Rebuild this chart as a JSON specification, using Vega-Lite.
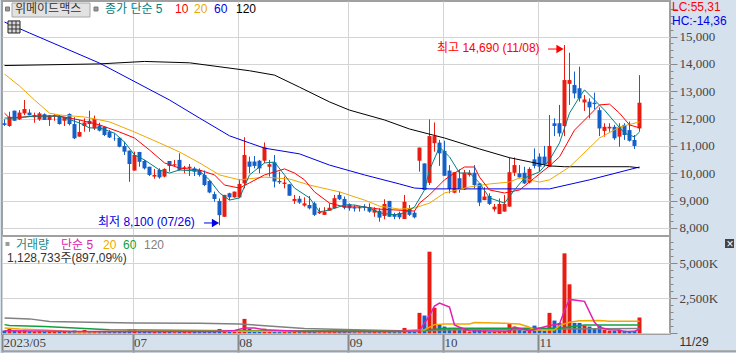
{
"$schema":"https://vega.github.io/schema/vega-lite/v6.json",
"background":"#d6e1ee",
"padding":{"left":0,"top":0,"right":0,"bottom":0},
"spacing":0,
"bounds":"flush",
"resolve":{"scale":{"color":"independent","fill":"independent","stroke":"independent"}},
"config":{"view":{"stroke":"#a0a0a0","strokeWidth":2,"fill":"white"},"axis":{"labelFont":"Liberation Sans Narrow","labelFontSize":13,"labelColor":"#444","tickColor":"#888","gridColor":"#d4d4d4","domain":false,"title":null}},
"datasets":{
"candles":[
{"i":0,"o":11830,"h":11970,"l":11730,"c":11770,"v":200},{"i":1,"o":11730,"h":12250,"l":11700,"c":12070,"v":360},{"i":2,"o":12290,"h":12290,"l":11920,"c":11920,"v":200},{"i":3,"o":11970,"h":12310,"l":11950,"c":12220,"v":180},{"i":4,"o":12190,"h":12680,"l":12130,"c":12350,"v":200},{"i":5,"o":12220,"h":12340,"l":12120,"c":12120,"v":150},{"i":6,"o":12050,"h":12220,"l":11850,"c":12130,"v":130},{"i":7,"o":11970,"h":12240,"l":11920,"c":12190,"v":150},{"i":8,"o":12160,"h":12190,"l":11950,"c":11950,"v":130},{"i":9,"o":11950,"h":12120,"l":11730,"c":12120,"v":130},
{"i":10,"o":12100,"h":12170,"l":11920,"c":12130,"v":110},{"i":11,"o":12100,"h":12130,"l":11780,"c":11800,"v":120},{"i":12,"o":11920,"h":12050,"l":11730,"c":12050,"v":120},{"i":13,"o":12170,"h":12190,"l":11750,"c":11800,"v":130},{"i":14,"o":11800,"h":12050,"l":11250,"c":11280,"v":200},{"i":15,"o":11340,"h":11950,"l":11340,"c":11510,"v":120},{"i":16,"o":11730,"h":12010,"l":11520,"c":11860,"v":240},{"i":17,"o":11920,"h":12290,"l":11520,"c":11800,"v":130},{"i":18,"o":11640,"h":12110,"l":11580,"c":11990,"v":140},{"i":19,"o":11750,"h":11850,"l":11530,"c":11560,"v":120},
{"i":20,"o":11700,"h":11700,"l":11360,"c":11400,"v":110},{"i":21,"o":11520,"h":11580,"l":11290,"c":11310,"v":120},{"i":22,"o":11280,"h":11460,"l":11190,"c":11270,"v":90},{"i":23,"o":11300,"h":11300,"l":10950,"c":10970,"v":100},{"i":24,"o":11000,"h":11160,"l":10670,"c":10790,"v":140},{"i":25,"o":10830,"h":10830,"l":9690,"c":10340,"v":260},{"i":26,"o":10100,"h":10790,"l":10100,"c":10670,"v":260},{"i":27,"o":10780,"h":10780,"l":10240,"c":10420,"v":150},{"i":28,"o":10450,"h":10490,"l":10140,"c":10180,"v":120},{"i":29,"o":10240,"h":10240,"l":9900,"c":9940,"v":110},
{"i":30,"o":9880,"h":10160,"l":9800,"c":9940,"v":90},{"i":31,"o":10120,"h":10180,"l":9800,"c":9850,"v":110},{"i":32,"o":9880,"h":10180,"l":9850,"c":10160,"v":120},{"i":33,"o":10450,"h":10450,"l":10060,"c":10270,"v":110},{"i":34,"o":10290,"h":10490,"l":10240,"c":10330,"v":80},{"i":35,"o":10490,"h":10730,"l":10100,"c":10120,"v":150},{"i":36,"o":10180,"h":10270,"l":10000,"c":10220,"v":100},{"i":37,"o":10180,"h":10340,"l":9900,"c":10240,"v":190},{"i":38,"o":10180,"h":10240,"l":9900,"c":10060,"v":190},{"i":39,"o":10120,"h":10180,"l":9880,"c":9940,"v":190},
{"i":40,"o":9940,"h":10100,"l":9530,"c":9570,"v":130},{"i":41,"o":9720,"h":9750,"l":9270,"c":9300,"v":140},{"i":42,"o":9240,"h":9330,"l":8960,"c":9060,"v":190},{"i":43,"o":8990,"h":9080,"l":8100,"c":8470,"v":310},{"i":44,"o":8410,"h":9210,"l":8410,"c":9210,"v":230},{"i":45,"o":9270,"h":9290,"l":9020,"c":9120,"v":130},{"i":46,"o":9120,"h":9330,"l":9110,"c":9330,"v":140},{"i":47,"o":9120,"h":9780,"l":9090,"c":9610,"v":250},{"i":48,"o":9630,"h":11320,"l":9450,"c":10670,"v":1030},{"i":49,"o":10430,"h":10610,"l":10000,"c":10240,"v":330},
{"i":50,"o":10430,"h":10630,"l":10180,"c":10270,"v":200},{"i":51,"o":10460,"h":10490,"l":10000,"c":10180,"v":170},{"i":52,"o":10460,"h":11130,"l":10370,"c":10950,"v":330},{"i":53,"o":10240,"h":10490,"l":9880,"c":10330,"v":180},{"i":54,"o":10400,"h":10670,"l":9480,"c":9700,"v":240},{"i":55,"o":9720,"h":10060,"l":9610,"c":9670,"v":150},{"i":56,"o":9610,"h":9880,"l":9450,"c":9660,"v":120},{"i":57,"o":9600,"h":9600,"l":9180,"c":9180,"v":170},{"i":58,"o":8990,"h":9210,"l":8880,"c":9060,"v":110},{"i":59,"o":9070,"h":9170,"l":8880,"c":8930,"v":90},
{"i":60,"o":8820,"h":9120,"l":8780,"c":8900,"v":90},{"i":61,"o":8840,"h":9170,"l":8680,"c":8720,"v":110},{"i":62,"o":8900,"h":8960,"l":8440,"c":8480,"v":160},{"i":63,"o":8540,"h":8740,"l":8510,"c":8600,"v":80},{"i":64,"o":8480,"h":8760,"l":8480,"c":8600,"v":80},{"i":65,"o":8630,"h":8900,"l":8630,"c":8740,"v":110},{"i":66,"o":8720,"h":9210,"l":8720,"c":9090,"v":190},{"i":67,"o":9210,"h":9330,"l":9020,"c":9050,"v":130},{"i":68,"o":9060,"h":9150,"l":8680,"c":8740,"v":130},{"i":69,"o":8870,"h":8900,"l":8630,"c":8720,"v":90},
{"i":70,"o":8760,"h":8840,"l":8600,"c":8710,"v":80},{"i":71,"o":8720,"h":8800,"l":8600,"c":8760,"v":80},{"i":72,"o":8780,"h":8870,"l":8630,"c":8740,"v":80},{"i":73,"o":8760,"h":8900,"l":8560,"c":8600,"v":90},{"i":74,"o":8560,"h":8760,"l":8410,"c":8680,"v":100},{"i":75,"o":8630,"h":8720,"l":8230,"c":8380,"v":130},{"i":76,"o":8440,"h":9050,"l":8320,"c":8880,"v":220},{"i":77,"o":8990,"h":8990,"l":8410,"c":8410,"v":210},{"i":78,"o":8510,"h":8560,"l":8320,"c":8410,"v":100},{"i":79,"o":8540,"h":8600,"l":8320,"c":8390,"v":100},
{"i":80,"o":8330,"h":9210,"l":8330,"c":8960,"v":384},{"i":81,"o":8720,"h":8840,"l":8440,"c":8480,"v":190},{"i":82,"o":8560,"h":8630,"l":8350,"c":8390,"v":130},{"i":83,"o":10460,"h":10940,"l":10060,"c":10940,"v":1460},{"i":84,"o":10360,"h":10360,"l":9390,"c":9390,"v":1270},{"i":85,"o":9650,"h":11970,"l":9570,"c":11360,"v":5830},{"i":86,"o":11100,"h":11860,"l":10790,"c":11360,"v":1820},{"i":87,"o":11120,"h":11220,"l":10270,"c":10730,"v":620},{"i":88,"o":10820,"h":11190,"l":9910,"c":9910,"v":480},{"i":89,"o":10100,"h":10300,"l":9270,"c":9430,"v":310},
{"i":90,"o":9290,"h":10040,"l":9270,"c":10040,"v":310},{"i":91,"o":9820,"h":10140,"l":9290,"c":9390,"v":310},{"i":92,"o":9410,"h":10120,"l":9390,"c":10020,"v":360},{"i":93,"o":9940,"h":10120,"l":9880,"c":10020,"v":120},{"i":94,"o":10020,"h":10300,"l":9450,"c":9570,"v":240},{"i":95,"o":9630,"h":9630,"l":8800,"c":8930,"v":240},{"i":96,"o":9020,"h":9490,"l":9020,"c":9150,"v":190},{"i":97,"o":9170,"h":9270,"l":8840,"c":8880,"v":120},{"i":98,"o":8680,"h":8880,"l":8600,"c":8780,"v":120},{"i":99,"o":8510,"h":9080,"l":8510,"c":8880,"v":140},
{"i":100,"o":8600,"h":9210,"l":8600,"c":8880,"v":140},{"i":101,"o":8780,"h":10580,"l":8780,"c":10040,"v":700},{"i":102,"o":10020,"h":10580,"l":9900,"c":10300,"v":480},{"i":103,"o":10000,"h":10300,"l":9820,"c":9850,"v":240},{"i":104,"o":10020,"h":10240,"l":9610,"c":9630,"v":190},{"i":105,"o":9660,"h":10220,"l":9630,"c":10160,"v":310},{"i":106,"o":10510,"h":10910,"l":10180,"c":10270,"v":550},{"i":107,"o":10610,"h":10730,"l":10060,"c":10240,"v":240},{"i":108,"o":10610,"h":11000,"l":10240,"c":10340,"v":190},{"i":109,"o":10240,"h":12130,"l":10240,"c":11000,"v":1460},
{"i":110,"o":11830,"h":12010,"l":11360,"c":11730,"v":910},{"i":111,"o":11830,"h":12500,"l":11340,"c":11460,"v":740},{"i":112,"o":11730,"h":14690,"l":11360,"c":13410,"v":5710},{"i":113,"o":13270,"h":14410,"l":12500,"c":13410,"v":3500},{"i":114,"o":13230,"h":13720,"l":12740,"c":12920,"v":740},{"i":115,"o":13110,"h":13900,"l":12620,"c":12740,"v":740},{"i":116,"o":12590,"h":12860,"l":12280,"c":12700,"v":550},{"i":117,"o":12620,"h":12740,"l":12010,"c":12410,"v":480},{"i":118,"o":12580,"h":12950,"l":12340,"c":12530,"v":360},{"i":119,"o":12310,"h":12410,"l":11360,"c":11640,"v":550},
{"i":120,"o":11550,"h":11830,"l":11340,"c":11700,"v":260},{"i":121,"o":11640,"h":11830,"l":11520,"c":11700,"v":190},{"i":122,"o":11700,"h":11770,"l":11220,"c":11280,"v":190},{"i":123,"o":11340,"h":11830,"l":10970,"c":11700,"v":240},{"i":124,"o":11770,"h":11830,"l":11220,"c":11400,"v":190},{"i":125,"o":11580,"h":11890,"l":11160,"c":11190,"v":120},{"i":126,"o":11220,"h":11400,"l":10890,"c":11000,"v":170},{"i":127,"o":11640,"h":13590,"l":11520,"c":12580,"v":1129}
],
"pma":[
{"s":"ma60","i":0,"p":15530},{"s":"ma60","i":5,"p":15130},{"s":"ma60","i":19,"p":14030},{"s":"ma60","i":33,"p":12680},{"s":"ma60","i":39,"p":12020},{"s":"ma60","i":45,"p":11370},{"s":"ma60","i":49,"p":11110},{"s":"ma60","i":52,"p":10920},{"s":"ma60","i":59,"p":10710},{"s":"ma60","i":65,"p":10300},{"s":"ma60","i":72,"p":9940},{"s":"ma60","i":79,"p":9610},{"s":"ma60","i":82,"p":9460},{"s":"ma60","i":85,"p":9430},{"s":"ma60","i":101,"p":9430},{"s":"ma60","i":109,"p":9430},{"s":"ma60","i":117,"p":9760},{"s":"ma60","i":127,"p":10230},
{"s":"ma120","i":0,"p":13940},{"s":"ma120","i":19,"p":14000},{"s":"ma120","i":28,"p":14090},{"s":"ma120","i":37,"p":14040},{"s":"ma120","i":49,"p":13750},{"s":"ma120","i":54,"p":13590},{"s":"ma120","i":59,"p":13150},{"s":"ma120","i":65,"p":12610},{"s":"ma120","i":69,"p":12310},{"s":"ma120","i":76,"p":11950},{"s":"ma120","i":81,"p":11620},{"s":"ma120","i":88,"p":11290},{"s":"ma120","i":95,"p":10890},{"s":"ma120","i":101,"p":10570},{"s":"ma120","i":109,"p":10270},{"s":"ma120","i":112,"p":10240},{"s":"ma120","i":125,"p":10240},{"s":"ma120","i":127,"p":10200},
{"s":"ma20","i":0,"p":13630},{"s":"ma20","i":3,"p":13190},{"s":"ma20","i":6,"p":12680},{"s":"ma20","i":9,"p":12200},{"s":"ma20","i":11,"p":12130},{"s":"ma20","i":16,"p":12060},{"s":"ma20","i":21,"p":11880},{"s":"ma20","i":26,"p":11510},{"s":"ma20","i":31,"p":11110},{"s":"ma20","i":35,"p":10780},{"s":"ma20","i":39,"p":10380},{"s":"ma20","i":43,"p":9940},{"s":"ma20","i":47,"p":9760},{"s":"ma20","i":52,"p":9860},{"s":"ma20","i":57,"p":9790},{"s":"ma20","i":61,"p":9570},{"s":"ma20","i":67,"p":9320},{"s":"ma20","i":72,"p":9020},{"s":"ma20","i":75,"p":8800},{"s":"ma20","i":79,"p":8690},{"s":"ma20","i":82,"p":8730},{"s":"ma20","i":85,"p":8910},{"s":"ma20","i":88,"p":9280},{"s":"ma20","i":93,"p":9500},{"s":"ma20","i":97,"p":9610},{"s":"ma20","i":101,"p":9680},{"s":"ma20","i":103,"p":9830},{"s":"ma20","i":107,"p":9680},{"s":"ma20","i":109,"p":9760},{"s":"ma20","i":113,"p":10230},{"s":"ma20","i":119,"p":11290},{"s":"ma20","i":123,"p":11690},{"s":"ma20","i":127,"p":11880},
{"s":"ma10","i":0,"p":12200},{"s":"ma10","i":1,"p":12020},{"s":"ma10","i":6,"p":12090},{"s":"ma10","i":11,"p":12090},{"s":"ma10","i":15,"p":11950},{"s":"ma10","i":19,"p":11770},{"s":"ma10","i":23,"p":11510},{"s":"ma10","i":26,"p":11290},{"s":"ma10","i":29,"p":10850},{"s":"ma10","i":32,"p":10380},{"s":"ma10","i":35,"p":10190},{"s":"ma10","i":39,"p":10120},{"s":"ma10","i":42,"p":9940},{"s":"ma10","i":44,"p":9570},{"s":"ma10","i":47,"p":9460},{"s":"ma10","i":49,"p":9650},{"s":"ma10","i":52,"p":9940},{"s":"ma10","i":56,"p":10160},{"s":"ma10","i":58,"p":10010},{"s":"ma10","i":60,"p":9760},{"s":"ma10","i":62,"p":9320},{"s":"ma10","i":65,"p":8910},{"s":"ma10","i":68,"p":8770},{"s":"ma10","i":72,"p":8770},{"s":"ma10","i":75,"p":8690},{"s":"ma10","i":82,"p":8620},{"s":"ma10","i":83,"p":8910},{"s":"ma10","i":85,"p":9210},{"s":"ma10","i":88,"p":9760},{"s":"ma10","i":90,"p":10010},{"s":"ma10","i":92,"p":10230},{"s":"ma10","i":94,"p":10230},{"s":"ma10","i":95,"p":9860},{"s":"ma10","i":97,"p":9390},{"s":"ma10","i":100,"p":9280},{"s":"ma10","i":103,"p":9390},{"s":"ma10","i":106,"p":9830},{"s":"ma10","i":109,"p":10270},{"s":"ma10","i":111,"p":10600},{"s":"ma10","i":114,"p":11580},{"s":"ma10","i":117,"p":12130},{"s":"ma10","i":119,"p":12500},{"s":"ma10","i":121,"p":12530},{"s":"ma10","i":123,"p":12200},{"s":"ma10","i":125,"p":11770},{"s":"ma10","i":127,"p":11660},
{"s":"ma5","i":0,"p":12020},{"s":"ma5","i":2,"p":12020},{"s":"ma5","i":6,"p":12090},{"s":"ma5","i":11,"p":12090},{"s":"ma5","i":15,"p":11840},{"s":"ma5","i":17,"p":11660},{"s":"ma5","i":19,"p":11660},{"s":"ma5","i":22,"p":11470},{"s":"ma5","i":24,"p":11140},{"s":"ma5","i":26,"p":10670},{"s":"ma5","i":28,"p":10490},{"s":"ma5","i":31,"p":10120},{"s":"ma5","i":33,"p":10010},{"s":"ma5","i":35,"p":10120},{"s":"ma5","i":39,"p":10080},{"s":"ma5","i":41,"p":9760},{"s":"ma5","i":43,"p":9280},{"s":"ma5","i":45,"p":9020},{"s":"ma5","i":47,"p":9100},{"s":"ma5","i":49,"p":9940},{"s":"ma5","i":52,"p":10380},{"s":"ma5","i":54,"p":10410},{"s":"ma5","i":56,"p":9940},{"s":"ma5","i":58,"p":9460},{"s":"ma5","i":61,"p":9100},{"s":"ma5","i":63,"p":8590},{"s":"ma5","i":65,"p":8660},{"s":"ma5","i":68,"p":8840},{"s":"ma5","i":70,"p":8840},{"s":"ma5","i":73,"p":8730},{"s":"ma5","i":75,"p":8550},{"s":"ma5","i":78,"p":8480},{"s":"ma5","i":80,"p":8550},{"s":"ma5","i":82,"p":8770},{"s":"ma5","i":84,"p":9390},{"s":"ma5","i":85,"p":10120},{"s":"ma5","i":87,"p":10960},{"s":"ma5","i":89,"p":10600},{"s":"ma5","i":91,"p":10010},{"s":"ma5","i":93,"p":10010},{"s":"ma5","i":95,"p":9650},{"s":"ma5","i":97,"p":9100},{"s":"ma5","i":100,"p":8910},{"s":"ma5","i":102,"p":9390},{"s":"ma5","i":104,"p":9830},{"s":"ma5","i":107,"p":10050},{"s":"ma5","i":109,"p":10490},{"s":"ma5","i":111,"p":11110},{"s":"ma5","i":113,"p":12200},{"s":"ma5","i":115,"p":12790},{"s":"ma5","i":116,"p":13050},{"s":"ma5","i":118,"p":12680},{"s":"ma5","i":120,"p":12310},{"s":"ma5","i":122,"p":11880},{"s":"ma5","i":124,"p":11470},{"s":"ma5","i":126,"p":11330},{"s":"ma5","i":127,"p":11510}
],
"vma":[
{"s":"v120","i":0,"p":1100},{"s":"v120","i":5,"p":1030},{"s":"v120","i":9,"p":840},{"s":"v120","i":17,"p":790},{"s":"v120","i":26,"p":740},{"s":"v120","i":39,"p":720},{"s":"v120","i":47,"p":670},{"s":"v120","i":60,"p":350},{"s":"v120","i":70,"p":260},{"s":"v120","i":79,"p":190},{"s":"v120","i":84,"p":190},{"s":"v120","i":90,"p":260},{"s":"v120","i":105,"p":260},{"s":"v120","i":110,"p":310},{"s":"v120","i":127,"p":340},
{"s":"v60","i":0,"p":620},{"s":"v60","i":1,"p":550},{"s":"v60","i":8,"p":480},{"s":"v60","i":14,"p":380},{"s":"v60","i":21,"p":260},{"s":"v60","i":46,"p":190},{"s":"v60","i":79,"p":190},{"s":"v60","i":84,"p":240},{"s":"v60","i":89,"p":360},{"s":"v60","i":111,"p":360},{"s":"v60","i":116,"p":600},{"s":"v60","i":127,"p":600},
{"s":"v20","i":0,"p":380},{"s":"v20","i":3,"p":310},{"s":"v20","i":8,"p":240},{"s":"v20","i":15,"p":100},{"s":"v20","i":20,"p":130},{"s":"v20","i":25,"p":150},{"s":"v20","i":45,"p":150},{"s":"v20","i":60,"p":120},{"s":"v20","i":79,"p":120},{"s":"v20","i":84,"p":260},{"s":"v20","i":86,"p":620},{"s":"v20","i":88,"p":670},{"s":"v20","i":93,"p":670},{"s":"v20","i":94,"p":770},{"s":"v20","i":100,"p":720},{"s":"v20","i":103,"p":670},{"s":"v20","i":105,"p":430},{"s":"v20","i":106,"p":240},{"s":"v20","i":110,"p":240},{"s":"v20","i":111,"p":550},{"s":"v20","i":113,"p":790},{"s":"v20","i":115,"p":890},{"s":"v20","i":119,"p":910},{"s":"v20","i":121,"p":860},{"s":"v20","i":127,"p":860},
{"s":"v5","i":0,"p":190},{"s":"v5","i":12,"p":140},{"s":"v5","i":16,"p":120},{"s":"v5","i":25,"p":130},{"s":"v5","i":35,"p":120},{"s":"v5","i":42,"p":130},{"s":"v5","i":46,"p":200},{"s":"v5","i":48,"p":380},{"s":"v5","i":50,"p":380},{"s":"v5","i":52,"p":260},{"s":"v5","i":60,"p":130},{"s":"v5","i":75,"p":120},{"s":"v5","i":79,"p":140},{"s":"v5","i":83,"p":190},{"s":"v5","i":85,"p":1270},{"s":"v5","i":86,"p":1940},{"s":"v5","i":87,"p":2160},{"s":"v5","i":89,"p":1870},{"s":"v5","i":90,"p":600},{"s":"v5","i":91,"p":430},{"s":"v5","i":93,"p":190},{"s":"v5","i":101,"p":140},{"s":"v5","i":102,"p":430},{"s":"v5","i":105,"p":190},{"s":"v5","i":109,"p":550},{"s":"v5","i":111,"p":670},{"s":"v5","i":112,"p":1630},{"s":"v5","i":113,"p":2420},{"s":"v5","i":116,"p":2280},{"s":"v5","i":118,"p":790},{"s":"v5","i":119,"p":430},{"s":"v5","i":121,"p":260},{"s":"v5","i":123,"p":240},{"s":"v5","i":124,"p":120},{"s":"v5","i":126,"p":140},{"s":"v5","i":127,"p":310}
]
},
"vconcat":[
{"width":668,"height":235,
"layer":[
{"data":{"name":"candles"},"mark":{"type":"rule","strokeWidth":1},
"encoding":{"x":{"field":"i","type":"quantitative","scale":{"domain":[-0.5,133.1],"nice":false,"zero":false,"padding":0},"axis":{"values":[25.6,46.66,68.7,87.7,106.7],"tickCount":100,"labels":false,"ticks":false,"grid":true}},
"y":{"field":"l","type":"quantitative","scale":{"domain":[7707,16300],"nice":false,"zero":false},"axis":{"orient":"right","tickCount":100,"values":[8000,8250,8500,8750,9000,9250,9500,9750,10000,10250,10500,10750,11000,11250,11500,11750,12000,12250,12500,12750,13000,13250,13500,13750,14000,14250,14500,14750,15000,15250,15500,15750,16000],"labelExpr":"datum.value%1000===0&&datum.value<16000?format(datum.value,','):''","labelOverlap":false,"labelPadding":2,"grid":true,"gridOpacity":{"condition":{"test":"datum.value%1000===0&&datum.value<16000","value":1},"value":0},"tickSize":{"condition":{"test":"datum.value%1000===0","value":7},"value":3}}},
"y2":{"field":"h"},
"color":{"condition":{"test":"datum.c>=datum.o","value":"#e81c10"},"value":"#1560c8"}}},
{"data":{"name":"candles"},"mark":{"type":"bar","size":4},
"encoding":{"x":{"field":"i","type":"quantitative"},"y":{"field":"o","type":"quantitative"},"y2":{"field":"c"},
"color":{"condition":{"test":"datum.c>=datum.o","value":"#e81c10"},"value":"#1560c8"}}},
{"data":{"name":"pma"},"mark":{"type":"line","strokeWidth":1,"interpolate":"linear"},
"encoding":{"x":{"field":"i","type":"quantitative"},"y":{"field":"p","type":"quantitative"},"detail":{"field":"s"},
"color":{"field":"s","type":"nominal","legend":null,"scale":{"domain":["ma5","ma10","ma20","ma60","ma120","lab","arrowHi","arrowLo"],"range":["#008080","#ff0000","#f0a800","#0000e6","#000000","#333333","#ff0000","#0000e6"]}}}},
{"data":{"values":[
{"t":"chrome","i0":1.5,"i1":17.1,"p0":16226,"p1":15714,"f":"button"},
{"t":"chrome","i0":0.2,"i1":1.0,"p0":16080,"p1":15935,"f":"square"},
{"t":"chrome","i0":17.9,"i1":18.7,"p0":16080,"p1":15935,"f":"square"},
{"t":"chrome","i0":0.7,"i1":3.1,"p0":15570,"p1":15130,"f":"icon"}
]},"mark":{"type":"rect"},
"encoding":{"x":{"field":"i0","type":"quantitative"},"x2":{"field":"i1"},"y":{"field":"p0","type":"quantitative"},"y2":{"field":"p1"},
"fill":{"field":"f","type":"nominal","legend":null,"scale":{"domain":["button","square","icon"],"range":["#e2e2e2","#9a9a9a","#d8d8d8"]}},
"stroke":{"field":"f","type":"nominal","legend":null,"scale":{"domain":["button","square","icon"],"range":["#a8a8a8","#777777","#222222"]}}}},
{"data":{"values":[
{"s":"arrowHi","i0":108.7,"i1":111,"p0":14544,"p1":14544},
{"s":"arrowLo","i0":39.9,"i1":42,"p0":8183,"p1":8183},
{"s":"lab","i0":1.5,"i1":1.5,"p0":15570,"p1":15130},
{"s":"lab","i0":2.3,"i1":2.3,"p0":15570,"p1":15130},
{"s":"lab","i0":0.7,"i1":3.1,"p0":15423,"p1":15423},
{"s":"lab","i0":0.7,"i1":3.1,"p0":15277,"p1":15277}
]},"mark":{"type":"rule","strokeWidth":1},
"encoding":{"x":{"field":"i0","type":"quantitative"},"x2":{"field":"i1"},"y":{"field":"p0","type":"quantitative"},"y2":{"field":"p1"},"color":{"field":"s","type":"nominal","legend":null}}},
{"data":{"values":[{"s":"arrowHi","i":111.1,"p":14544},{"s":"arrowLo","i":42.2,"p":8183}]},"mark":{"type":"point","shape":"triangle-right","filled":true,"size":70,"opacity":1},
"encoding":{"x":{"field":"i","type":"quantitative"},"y":{"field":"p","type":"quantitative"},"color":{"field":"s","type":"nominal","legend":null}}},
{"data":{"values":[
{"t":"위메이드맥스","i":2.1,"p":16000,"s":"lab"},
{"t":"종가 단순 5","i":20.1,"p":16000,"s":"ma5"},
{"t":"10","i":34.1,"p":16000,"s":"ma10"},
{"t":"20","i":37.9,"p":16000,"s":"ma20"},
{"t":"60","i":41.9,"p":16000,"s":"ma60"},
{"t":"120","i":46.3,"p":16000,"s":"ma120"},
{"t":"최고 14,690 (11/08)","i":86.5,"p":14580,"s":"arrowHi"},
{"t":"최저 8,100 (07/26)","i":18.7,"p":8220,"s":"arrowLo"},
{"t":"LC:55,31","i":133.5,"p":16080,"s":"arrowHi"},
{"t":"HC:-14,36","i":133.5,"p":15583,"s":"arrowLo"}
]},"mark":{"type":"text","font":"Liberation Sans, Noto Sans CJK KR","fontSize":12,"align":"left","baseline":"middle"},
"encoding":{"x":{"field":"i","type":"quantitative"},"y":{"field":"p","type":"quantitative"},"text":{"field":"t"},"color":{"field":"s","type":"nominal","legend":null}}}
]
},
{"width":668,"height":98,
"layer":[
{"data":{"name":"candles"},"mark":{"type":"bar","size":4},
"encoding":{"x":{"field":"i","type":"quantitative","scale":{"domain":[-0.5,133.1],"nice":false,"zero":false,"padding":0},"axis":{"tickCount":100,"values":[-0.5,25.6,46.66,68.7,87.7,106.7],"grid":true,"tickSize":18,"tickWidth":2,"labelAlign":"left","labelBaseline":"middle","labelPadding":-10,"labelOffset":1,"labelFlush":false,"labelBound":false,"labelOverlap":false,"labelExpr":"datum.value<0?'2023/05':datum.value<30?'07':datum.value<50?'08':datum.value<70?'09':datum.value<90?'10':'11'"}},
"y":{"field":"v","type":"quantitative","scale":{"domain":[-50,6950],"nice":false,"zero":false},"axis":{"orient":"right","tickCount":100,"values":[0,500,1000,1500,2000,2500,3000,3500,4000,4500,5000,5500,6000,6500],"labelExpr":"datum.value%2500===0&&datum.value>0?format(datum.value,',')+'K':''","labelOverlap":false,"labelPadding":2,"grid":true,"gridOpacity":{"condition":{"test":"datum.value%2500===0","value":1},"value":0},"tickSize":{"condition":{"test":"datum.value%2500===0","value":7},"value":3}}},
"y2":{"datum":0},
"color":{"condition":{"test":"datum.c>=datum.o","value":"#e81c10"},"value":"#1560c8"}}},
{"data":{"name":"vma"},"mark":{"type":"line","strokeWidth":1.5,"interpolate":"linear"},
"encoding":{"x":{"field":"i","type":"quantitative"},"y":{"field":"p","type":"quantitative"},"detail":{"field":"s"},
"color":{"field":"s","type":"nominal","legend":null,"scale":{"domain":["v5","v20","v60","v120","lab2","vol","white"],"range":["#e020b0","#f0a800","#10a040","#808080","#333333","#208888","#ffffff"]}}}},
{"data":{"values":[
{"i0":0.2,"i1":1.0,"p0":6520,"p1":6240,"f":"square"},
{"i0":144.1,"i1":145.9,"p0":6736,"p1":6093,"f":"close"}
]},"mark":{"type":"rect"},
"encoding":{"x":{"field":"i0","type":"quantitative"},"x2":{"field":"i1"},"y":{"field":"p0","type":"quantitative"},"y2":{"field":"p1"},
"fill":{"field":"f","type":"nominal","legend":null,"scale":{"domain":["square","close"],"range":["#9a9a9a","#444444"]}}}},
{"data":{"values":[{"i0":-0.5,"i1":146.5,"p":-1290}]},"mark":{"type":"rule","strokeWidth":2,"color":"#a0a0a0"},
"encoding":{"x":{"field":"i0","type":"quantitative"},"x2":{"field":"i1"},"y":{"field":"p","type":"quantitative"}}},
{"data":{"values":[
{"t":"거래량","i":2.3,"p":6310,"s":"vol"},
{"t":"단순 5","i":11.3,"p":6310,"s":"v5"},
{"t":"20","i":19.7,"p":6310,"s":"v20"},
{"t":"60","i":23.7,"p":6310,"s":"v60"},
{"t":"120","i":27.9,"p":6310,"s":"v120"},
{"t":"1,128,733주(897,09%)","i":0.5,"p":5380,"s":"lab2"},
{"t":"11/29","i":135,"p":-620,"s":"lab2"},
{"t":"×","i":144.4,"p":6400,"s":"white"}
]},"mark":{"type":"text","font":"Liberation Sans, Noto Sans CJK KR","fontSize":12,"align":"left","baseline":"middle"},
"encoding":{"x":{"field":"i","type":"quantitative"},"y":{"field":"p","type":"quantitative"},"text":{"field":"t"},"color":{"field":"s","type":"nominal","legend":null}}}
]
}
]
}
